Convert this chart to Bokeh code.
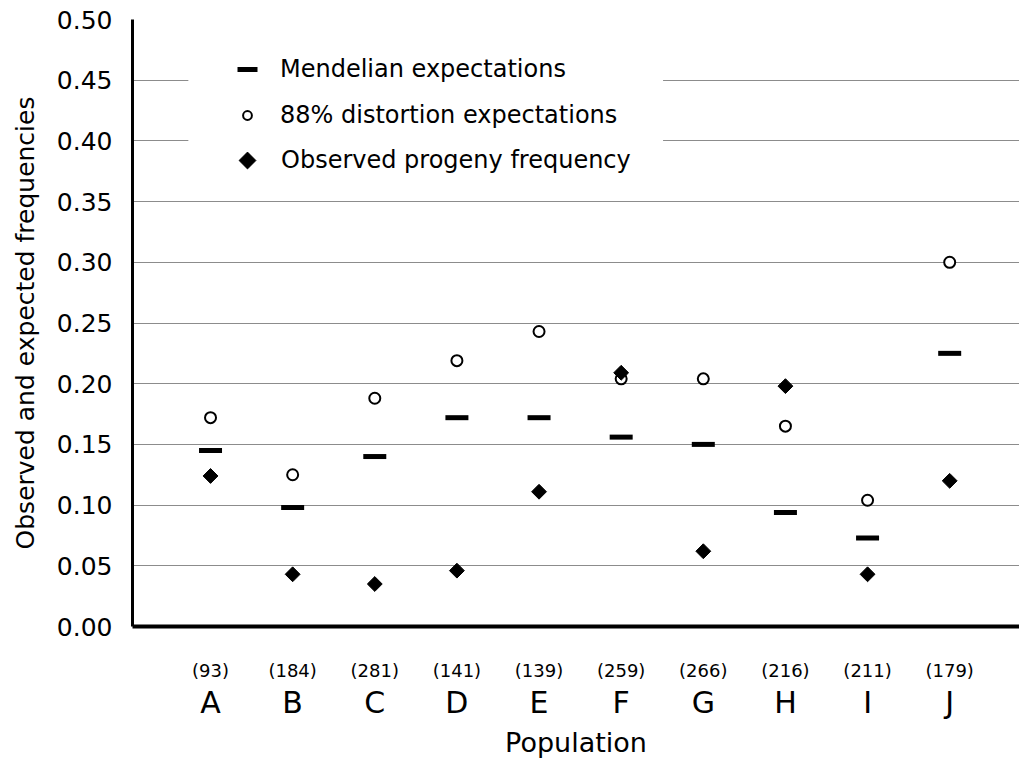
import math
from bokeh.plotting import figure
from bokeh.models import (Range1d, FixedTicker, LinearAxis, Legend, LegendItem,
                          NumeralTickFormatter, BoxAnnotation, ColumnDataSource)
from bokeh.embed import file_html
from bokeh.resources import INLINE

# ---- data -------------------------------------------------------------
populations = ["A", "B", "C", "D", "E", "F", "G", "H", "I", "J"]
sample_sizes = [93, 184, 281, 141, 139, 259, 266, 216, 211, 179]
mendelian = [0.145, 0.098, 0.140, 0.172, 0.172, 0.156, 0.150, 0.094, 0.073, 0.225]
distortion = [0.172, 0.125, 0.188, 0.219, 0.243, 0.204, 0.204, 0.165, 0.104, 0.300]
observed = [0.124, 0.043, 0.035, 0.046, 0.111, 0.209, 0.062, 0.198, 0.043, 0.120]
y_ticks = [0.00, 0.05, 0.10, 0.15, 0.20, 0.25, 0.30, 0.35, 0.40, 0.45, 0.50]

positions = list(range(1, len(populations) + 1))

FONT = "DejaVu Sans"

p = figure(width=1019, height=760, output_backend="svg", toolbar_location=None,
           x_range=Range1d(0.05, 10.85), y_range=Range1d(0, 0.5),
           min_border_left=132, min_border_right=0, min_border_top=19,
           min_border_bottom=132)
p.outline_line_color = None
p.background_fill_color = "white"
p.border_fill_color = "white"

# grid
p.xgrid.visible = False
p.ygrid.ticker = FixedTicker(ticks=y_ticks)
p.ygrid.grid_line_color = "#8c8c8c"
p.ygrid.grid_line_width = 1

# y axis
ya = p.yaxis[0]
ya.ticker = FixedTicker(ticks=y_ticks)
ya.formatter = NumeralTickFormatter(format="0.00")
ya.axis_line_color = "black"
ya.axis_line_width = 3
ya.major_tick_line_color = None
ya.minor_tick_line_color = None
ya.major_tick_out = 0
ya.major_tick_in = 0
ya.major_label_standoff = 20
ya.major_label_text_font = FONT
ya.major_label_text_font_size = "25px"
ya.major_label_text_color = "black"
ya.axis_label = "Observed and expected frequencies"
ya.axis_label_text_font = FONT
ya.axis_label_text_font_size = "25px"
ya.axis_label_text_font_style = "normal"
ya.axis_label_text_color = "black"
ya.axis_label_standoff = 14

# x axis (sample sizes, nearest to plot)
xa = p.xaxis[0]
xa.ticker = FixedTicker(ticks=positions)
xa.major_label_overrides = {pos: f"({n})" for pos, n in zip(positions, sample_sizes)}
xa.axis_line_color = "black"
xa.axis_line_width = 4
xa.major_tick_line_color = None
xa.minor_tick_line_color = None
xa.major_tick_out = 0
xa.major_tick_in = 0
xa.major_label_standoff = 33
xa.major_label_text_font = FONT
xa.major_label_text_font_size = "18px"
xa.major_label_text_color = "black"

# second x axis: population letters + title
xa2 = LinearAxis(ticker=FixedTicker(ticks=positions),
                 major_label_overrides={pos: lab for pos, lab in zip(positions, populations)})
xa2.axis_line_color = None
xa2.major_tick_line_color = None
xa2.minor_tick_line_color = None
xa2.major_tick_out = 0
xa2.major_tick_in = 0
xa2.major_label_standoff = 1
xa2.major_label_text_font = FONT
xa2.major_label_text_font_size = "30px"
xa2.major_label_text_color = "black"
xa2.axis_label = "Population"
xa2.axis_label_text_font = FONT
xa2.axis_label_text_font_size = "27px"
xa2.axis_label_text_font_style = "normal"
xa2.axis_label_text_color = "black"
xa2.axis_label_standoff = 4
p.add_layout(xa2, "below")

# white panel behind the legend (interrupts the grid lines as in the original)
p.add_layout(BoxAnnotation(left=0.73, right=6.51, bottom=0.37, top=0.47,
                           fill_color="white", fill_alpha=1, line_color=None,
                           level="underlay"))

# glyphs
r_c = p.scatter(positions, distortion, marker="circle", size=11,
                fill_color="white", line_color="black", line_width=2)
r_m = p.scatter(positions, mendelian, marker="dash", size=23,
                line_color="black", line_width=5)
r_d = p.scatter(positions, observed, marker="square", size=10.5, angle=math.pi / 4,
                fill_color="black", line_color="black", line_width=1)

# legend-only stand-in for the diamond (legend glyphs are never rotated)
r_d_leg = None
try:
    from bokeh.models import Ngon
    src = ColumnDataSource(dict(x=positions, y=observed))
    r_d_leg = p.add_glyph(src, Ngon(x="x", y="y", radius=0.1, n=4,
                                    fill_color="black", line_color="black"))
except Exception:
    r_d_leg = None
if r_d_leg is None:
    r_d_leg = p.scatter(positions, observed, marker="diamond", size=16,
                        fill_color="black", line_color="black", line_width=1)
r_d_leg.visible = False


def make_legend(label, rend, loc, gw, gh, standoff):
    return Legend(items=[LegendItem(label=label, renderers=[rend])],
                  location=loc, padding=0, margin=0, spacing=0,
                  glyph_width=gw, glyph_height=gh, label_standoff=standoff,
                  label_height=gh,
                  label_text_font=FONT, label_text_font_size="24px",
                  label_text_color="black", background_fill_alpha=0,
                  border_line_color=None)


p.add_layout(make_legend("Mendelian expectations", r_m, (90, 532), 50, 50, 8))
p.add_layout(make_legend("88% distortion expectations", r_c, (104, 491), 22, 40, 22))
p.add_layout(make_legend("Observed progeny frequency", r_d_leg, (94, 445), 42, 42, 13))

open("out.html", "w").write(file_html(p, INLINE))
